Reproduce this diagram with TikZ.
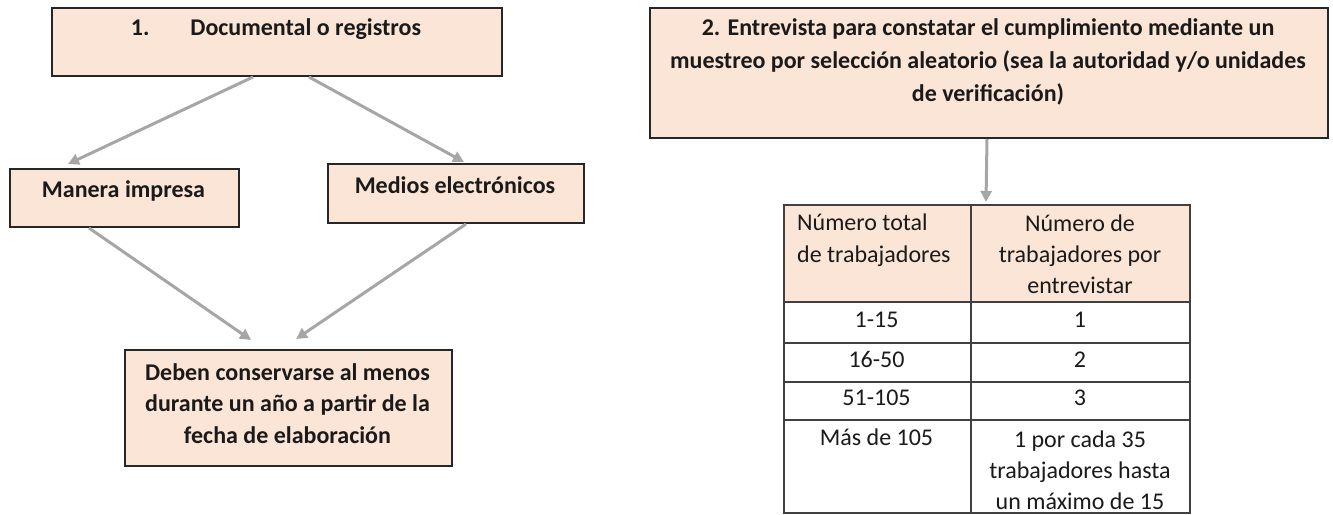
\documentclass[tikz,border=0pt]{standalone}
\usepackage{fontspec}
\setmainfont{Carlito}
\usetikzlibrary{arrows.meta,calc}
\definecolor{peach}{HTML}{FBE5D6}
\definecolor{edge}{HTML}{262626}
\definecolor{arr}{HTML}{A6A6A6}
\definecolor{gridc}{HTML}{404040}
\definecolor{ink}{HTML}{1A1A1A}
\begin{document}
\begin{tikzpicture}[x=1pt,y=-1pt,
  box/.style={draw=edge,line width=2pt,fill=peach,inner sep=0pt,anchor=north west},
  cell/.style={draw=gridc,line width=1.8pt,inner sep=0pt,anchor=north west},
  hcell/.style={cell,fill=peach},
  btxt/.style={font=\fontsize{24}{31.5}\selectfont\bfseries,inner sep=0pt,align=center,text=ink},
  ttxt/.style={font=\fontsize{24}{31}\selectfont,inner sep=0pt,align=center,text=ink},
  conn/.style={draw=arr,line width=3pt,-{Triangle[length=11pt,width=11pt]}}
]
\useasboundingbox (0,0) rectangle (1333,514);

% boxes
\node[box,minimum width=450pt,minimum height=68pt] (b1) at (51,7) {};
\node[box,minimum width=229pt,minimum height=58pt] (b2) at (9,168) {};
\node[box,minimum width=256pt,minimum height=59pt] (b3) at (327,163) {};
\node[box,minimum width=327pt,minimum height=116pt] (b4) at (124,349) {};
\node[box,minimum width=678pt,minimum height=130pt] (b5) at (649,7) {};

% box texts
\node[btxt,anchor=base] (t1) at (276,35) {1.\hspace{41pt}Documental o registros};
\node[btxt,anchor=base] (t2) at (123.5,197) {Manera impresa};
\node[btxt,anchor=base] (t3) at (455,193) {Medios electrónicos};
\node[btxt,anchor=north] (t4) at (287.5,360) {\rule{0pt}{20pt}Deben conservarse al menos\\durante un año a partir de la\\fecha de elaboración};
\node[btxt,anchor=north,font=\fontsize{24}{33}\selectfont\bfseries] (t5) at (988,15) {\rule{0pt}{20pt}2. Entrevista para constatar el cumplimiento mediante un\\muestreo por selección aleatorio (sea la autoridad y/o unidades\\de verificación)};

% table cells
\node[hcell,minimum width=187pt,minimum height=97pt] (h1) at (783,204) {};
\node[hcell,minimum width=219pt,minimum height=97pt] (h2) at (970,204) {};
\node[cell,minimum width=187pt,minimum height=41pt] (r1a) at (783,301) {};
\node[cell,minimum width=219pt,minimum height=41pt] (r1b) at (970,301) {};
\node[cell,minimum width=187pt,minimum height=39pt] (r2a) at (783,342) {};
\node[cell,minimum width=219pt,minimum height=39pt] (r2b) at (970,342) {};
\node[cell,minimum width=187pt,minimum height=38pt] (r3a) at (783,381) {};
\node[cell,minimum width=219pt,minimum height=38pt] (r3b) at (970,381) {};
\node[cell,minimum width=187pt,minimum height=93pt] (r4a) at (783,419) {};
\node[cell,minimum width=219pt,minimum height=93pt] (r4b) at (970,419) {};

% table texts
\node[ttxt,anchor=north west,align=left,font=\fontsize{24}{32}\selectfont] (th1) at (797,210) {\rule{0pt}{20pt}Número total\\de trabajadores};
\node[ttxt,anchor=north] (th2) at (1080,211) {\rule{0pt}{20pt}Número de\\trabajadores por\\entrevistar};
\node[ttxt,anchor=base] (c1a) at (876.5,327) {1-15};
\node[ttxt,anchor=base] (c2a) at (876.5,367) {16-50};
\node[ttxt,anchor=base] (c3a) at (876.5,405) {51-105};
\node[ttxt,anchor=base] (c4a) at (876.5,445) {Más de 105};
\node[ttxt,anchor=base] (c1b) at (1080,327) {1};
\node[ttxt,anchor=base] (c2b) at (1080,367) {2};
\node[ttxt,anchor=base] (c3b) at (1080,405) {3};
\node[ttxt,anchor=north] (c4b) at (1080,427) {\rule{0pt}{20pt}1 por cada 35\\trabajadores hasta\\un máximo de 15};

% connectors
\draw[conn] ($(b1.south)+(-24,0)$) -- ($(b2.north)+(-56.5,-4)$);
\draw[conn] ($(b1.south)+(32,0)$) -- ($(b3.north)+(8,-1)$);
\draw[conn] ($(b2.south)+(-35.5,0)$) -- ($(b4.north)+(-37.5,-9)$);
\draw[conn] ($(b3.south)+(10,0)$) -- ($(b4.north)+(7.5,-10)$);
\draw[conn] ($(b5.south)+(-2,0)$) -- ($(h2.north west)+(16,-2)$);
\end{tikzpicture}
\end{document}
